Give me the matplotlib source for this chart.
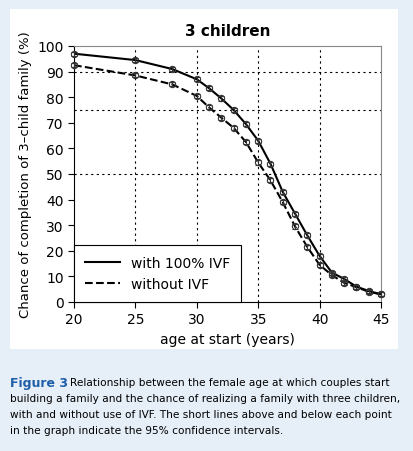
import matplotlib
matplotlib.use("Agg")
import matplotlib.pyplot as plt
from matplotlib.patches import Rectangle

ages = [20, 25, 28, 30, 31, 32, 33, 34, 35, 36, 37, 38, 39, 40, 41, 42, 43, 44, 45]
with_ivf = [97, 94.5, 91, 87, 83.5, 79.5, 75, 69.5, 63, 54, 43, 34.5, 26, 18, 11.5, 9, 6, 4.3, 3]
without_ivf = [92.5, 88.5, 85, 80.5, 76, 72, 68, 62.5, 54.5, 47.5, 39, 29.5, 21.5, 14.5, 10.5, 7.5, 5.8, 4, 3]
err = [0.8] * len(ages)

W, H = 414, 452
fig = plt.figure(figsize=(W/100, H/100), dpi=100)
fig.patch.set_facecolor('#e6eef7')
bg = fig.add_axes([10/W, 1-350/H, 388/W, 340/H], zorder=-1)
bg.set_facecolor('white')
bg.set_xticks([]); bg.set_yticks([])
for s in bg.spines.values():
    s.set_visible(False)
ax = fig.add_axes([74/W, 1-303/H, 307/W, 256/H], zorder=1)
ax.set_xlim(20, 45)
ax.set_ylim(0, 100)
for x in [25, 30, 35, 40]:
    ax.axvline(x, color='black', ls=(0, (2, 3)), lw=0.8, zorder=1)
for y in [50, 75, 90]:
    ax.axhline(y, color='black', ls=(0, (2, 3)), lw=0.8, zorder=1)
ax.plot(ages, with_ivf, 'k-', lw=1.5, label='with 100% IVF', zorder=3)
ax.plot(ages, without_ivf, 'k--', lw=1.5, label='without IVF', zorder=3)
for ys in (with_ivf, without_ivf):
    ax.errorbar(ages, ys, yerr=err, fmt='o', mfc='none', mec='#333', ecolor='#333',
                ms=4.5, mew=0.8, capsize=2.5, elinewidth=0.8, zorder=4, clip_on=False)
ax.set_xticks([20, 25, 30, 35, 40, 45])
ax.set_yticks(range(0, 101, 10))
ax.tick_params(labelsize=10, direction='out', length=4)
for s in ['top', 'right']:
    ax.spines[s].set_color('#888')
ax.set_title('3 children', fontsize=11, fontweight='bold', pad=8)
ax.set_xlabel('age at start (years)', fontsize=10)
ax.set_ylabel('Chance of completion of 3\u2013child family (%)', fontsize=9.5)
leg = ax.legend(loc='lower left', fontsize=10, fancybox=False, borderaxespad=0,
                edgecolor='black', framealpha=1, handlelength=2.5, borderpad=0.8)
leg.get_frame().set_linewidth(0.8)

fig.text(10/W, 1-383/H, 'Figure 3', color='#1f5fa8', fontweight='bold', fontsize=9, va='center')
fig.text(70/W, 1-383/H, 'Relationship between the female age at which couples start',
         fontsize=7.6, va='center')
lines = ['building a family and the chance of realizing a family with three children,',
         'with and without use of IVF. The short lines above and below each point',
         'in the graph indicate the 95% confidence intervals.']
for i, t in enumerate(lines):
    fig.text(10/W, 1-(399+16*i)/H, t, fontsize=7.6, va='center')
fig.savefig('out.png', dpi=100, facecolor=fig.get_facecolor())
